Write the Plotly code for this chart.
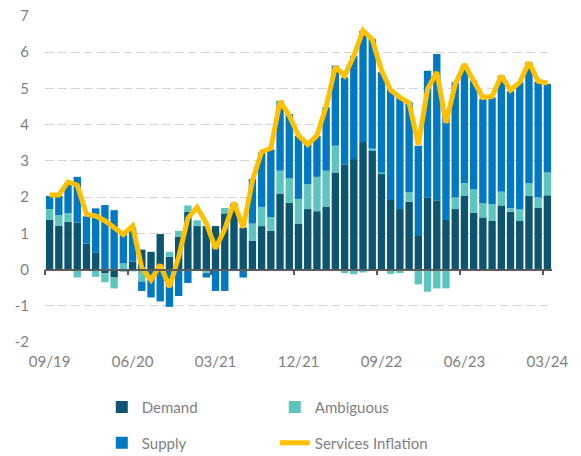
import pandas as pd
import plotly.graph_objects as go

# Categories: monthly, 09/19 .. 03/24
months = [d.strftime("%m/%y") for d in pd.date_range("2019-09-01", "2024-03-01", freq="MS")]

demand = [1.37, 1.21, 1.32, 1.30, 0.72, 0.46, -0.10, -0.22, -0.05, 0.22,
          0.55, 0.49, 0.98, 0.35, 0.90, 1.60, 1.20, 1.20, 1.20, 1.55,
          1.82, 1.16, 0.79, 1.20, 1.07, 2.10, 1.84, 1.27, 1.67, 1.61,
          1.74, 2.68, 2.89, 3.05, 3.52, 3.29, 2.65, 1.92, 1.67, 1.87,
          0.95, 1.99, 1.90, 1.37, 1.67, 2.03, 1.57, 1.44, 1.34, 1.77,
          1.60, 1.34, 2.03, 1.70, 2.05]

ambiguous = [0.30, 0.29, 0.24, -0.22, 0.00, -0.20, -0.25, -0.30, 0.17, -0.05,
             -0.33, 0.00, 0.00, 0.14, 0.17, 0.17, 0.16, -0.10, 0.00, 0.15,
             0.00, 0.00, 0.48, 0.53, 0.38, 0.63, 0.68, 0.68, 0.69, 0.95,
             0.99, 0.74, -0.10, -0.13, -0.08, 0.05, 0.03, -0.12, -0.10, 0.26,
             -0.41, -0.61, -0.52, -0.52, 0.32, 0.35, 0.65, 0.39, 0.46, 0.38,
             0.09, 0.32, 0.35, 0.29, 0.63]

supply = [0.36, 0.53, 0.84, 1.26, 0.75, 1.23, 1.78, 1.64, 0.81, 0.94,
          -0.26, -0.77, -0.88, -1.03, -0.73, -0.37, 0.00, -0.12, -0.59, -0.59,
          0.00, -0.22, 1.23, 1.50, 1.87, 1.93, 1.77, 1.74, 1.10, 1.13,
          1.75, 2.21, 2.41, 2.85, 3.07, 3.02, 2.77, 3.06, 3.08, 2.48,
          2.47, 3.50, 4.05, 3.03, 3.18, 3.25, 2.99, 2.88, 2.95, 3.20,
          3.23, 3.51, 3.34, 3.19, 2.44]

services_inflation = [2.06, 2.06, 2.42, 2.33, 1.53, 1.48, 1.35, 1.15, 0.97, 1.20,
                      0.05, -0.29, 0.13, -0.48, 0.35, 1.42, 1.72, 1.28, 0.58, 1.12,
                      1.85, 1.16, 2.45, 3.25, 3.35, 4.65, 4.25, 3.70, 3.45, 3.70,
                      4.50, 5.60, 5.35, 5.90, 6.60, 6.35, 5.50, 4.95, 4.75, 4.60,
                      3.45, 4.98, 5.45, 4.05, 5.12, 5.67, 5.20, 4.75, 4.78, 5.35,
                      4.95, 5.17, 5.72, 5.20, 5.15]

ytick_vals = [-2, -1, 0, 1, 2, 3, 4, 5, 6, 7]
ytick_text = ["-2", "-1", "0", "1", "2", "3", "4", "5", "6", "7"]

C_DEMAND = "#0C5470"
C_AMBIG = "#5DC5C0"
C_SUPPLY = "#0079C2"
C_LINE = "#FFC000"
TXT = "#7F7F7F"
FONT = "Lato"

fig = go.Figure()
fig.add_trace(go.Bar(x=months, y=demand, name="Demand", marker_color=C_DEMAND,
                     marker_line_width=0, legend="legend"))
fig.add_trace(go.Bar(x=months, y=ambiguous, name="Ambiguous", marker_color=C_AMBIG,
                     marker_line_width=0, legend="legend"))
fig.add_trace(go.Bar(x=months, y=supply, name="Supply", marker_color=C_SUPPLY,
                     marker_line_width=0, legend="legend2"))
fig.add_trace(go.Scatter(x=months, y=services_inflation, name="Services Inflation",
                         mode="lines", line=dict(color=C_LINE, width=5),
                         xaxis="x2", yaxis="y", legend="legend2"))

cat_range = [-0.5, len(months) - 0.5]

legend_common = dict(orientation="h", xanchor="left", yanchor="middle",
                     x=0.112, entrywidth=128, bgcolor="rgba(0,0,0,0)",
                     font=dict(family=FONT, size=15, color=TXT),
                     traceorder="normal")

fig.update_layout(
    width=581, height=456,
    margin=dict(l=45, r=29, t=16, b=114, autoexpand=False),
    paper_bgcolor="white", plot_bgcolor="white",
    barmode="relative", bargap=0.2,
    font=dict(family=FONT, size=15, color=TXT),
    xaxis=dict(type="category", categoryorder="array", categoryarray=months,
               range=cat_range, anchor="free", position=2 / 9,
               showline=True, linecolor="#5A5A5A", linewidth=1.5,
               ticks="outside", ticklen=5, tickwidth=1.5, tickcolor="#5A5A5A",
               tickson="boundaries", tickmode="linear", tick0=0, dtick=9,
               showticklabels=False, showgrid=False, zeroline=False),
    xaxis2=dict(type="category", categoryorder="array", categoryarray=months,
                range=cat_range, overlaying="x", anchor="y", side="bottom",
                tickmode="linear", tick0=0, dtick=9, ticks="",
                showline=False, showgrid=False, zeroline=False,
                ticklabelstandoff=9,
                tickfont=dict(family=FONT, size=15, color=TXT)),
    yaxis=dict(range=[-2, 7], tickmode="array", tickvals=ytick_vals, ticktext=ytick_text,
               showgrid=True, gridcolor="#D4D4D4", gridwidth=1.3, griddash="9px,4px",
               zeroline=False, ticks="", ticklabelstandoff=15,
               tickfont=dict(family=FONT, size=15, color=TXT)),
    legend=dict(y=-0.2, **legend_common),
    legend2=dict(y=-0.31, **legend_common),
    showlegend=True,
)

fig.write_html("out.html",
               config={"displayModeBar": False},
               post_script="document.body.style.margin='0px';document.body.style.overflow='hidden';")
